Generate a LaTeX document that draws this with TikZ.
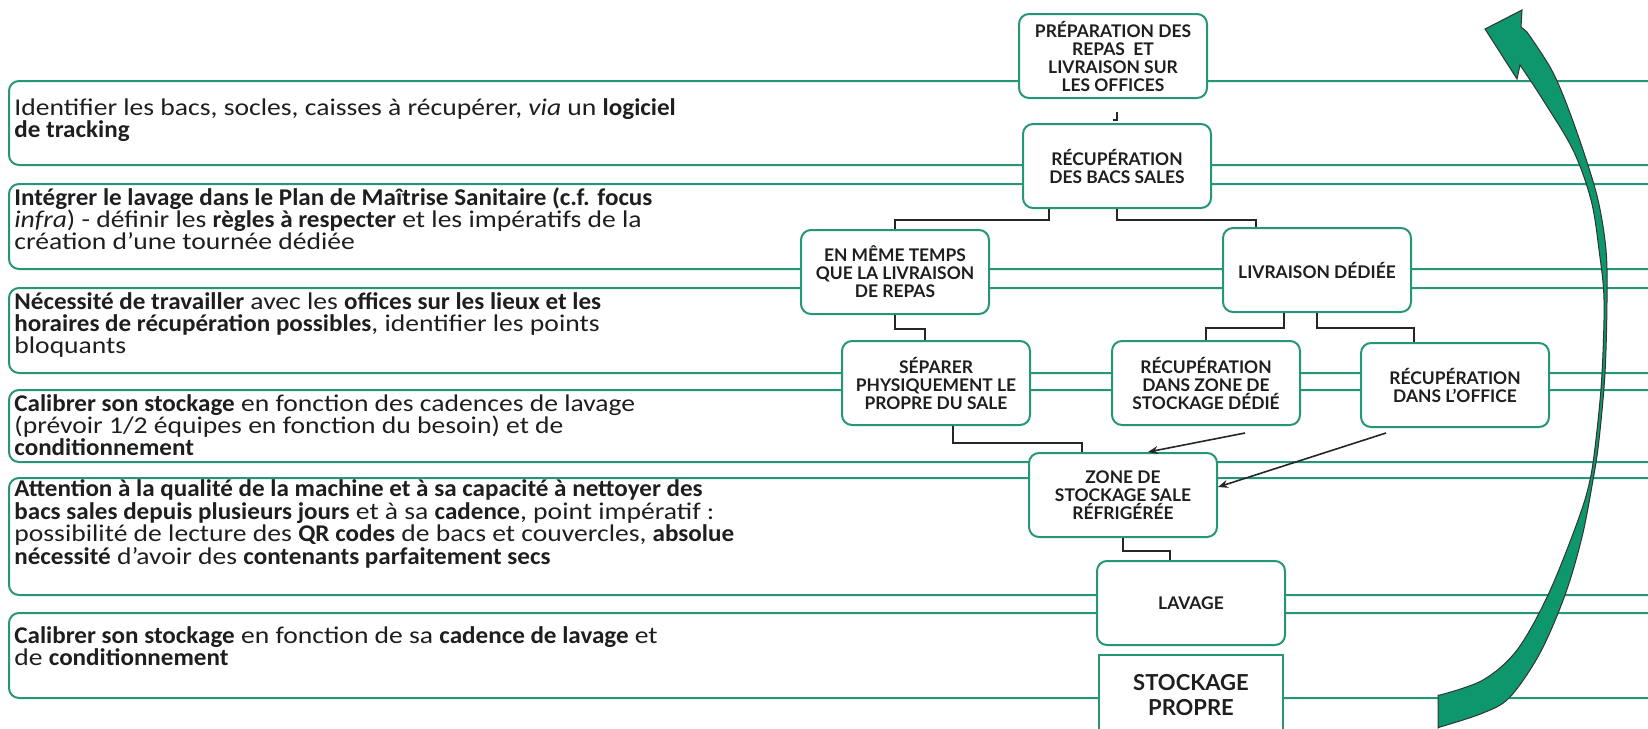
\documentclass[tikz,border=0pt]{standalone}
\usepackage{fontspec}
\setmainfont{Carlito}[FakeStretch=1.15, BoldFeatures={FakeStretch=1.045}]
\newfontfamily\etapefont{Lato}
\usetikzlibrary{arrows.meta}
\definecolor{V}{RGB}{38, 150, 120}
\definecolor{F}{RGB}{14, 150, 108}
\definecolor{T}{RGB}{30, 30, 30}

\begin{document}
\begin{tikzpicture}[x=0.5pt,y=-0.5pt,
  bande/.style={draw=V, line width=1pt, rounded corners=5pt},
  texte/.style={anchor=west, align=left, inner sep=0pt, text=T, font=\fontsize{12}{11}\selectfont},
  etape/.style={draw=V, line width=1pt, rounded corners=5pt, fill=white, text=T, align=center,
    inner sep=0pt, minimum width=94pt, minimum height=42pt, font=\etapefont\bfseries\fontsize{8.7}{9}\selectfont},
  lien/.style={draw=black!85, line width=0.8pt},
  fleche/.style={lien, -{Stealth[length=5pt,width=4pt]}}]
	\useasboundingbox (0,0) rectangle (1648,728);

	% Bandes de gauche (elles sortent de la page a droite)
	\draw[bande] (9,81) rectangle (1670,165);
	\draw[bande] (9,184) rectangle (1670,269);
	\draw[bande] (9,288) rectangle (1670,373);
	\draw[bande] (9,390) rectangle (1670,462);
	\draw[bande] (9,478) rectangle (1670,595);
	\draw[bande] (9,613) rectangle (1670,698);

	% Textes des bandes
	\node[texte] (tracking) at (14,120) {Identifier les bacs, socles, caisses à récupérer, \emph{via} un \textbf{logiciel}\\\textbf{de tracking}};
	\node[texte] (pms) at (14,219) {\textbf{Intégrer le lavage dans le Plan de Maîtrise Sanitaire (c.f. focus}\\\emph{infra}) - définir les \textbf{règles à respecter} et les impératifs de la\\création d’une tournée dédiée};
	\node[texte] (offices) at (14,325) {\textbf{Nécessité de travailler} avec les \textbf{offices sur les lieux et les}\\\textbf{horaires de récupération possibles}, identifier les points\\bloquants};
	\node[texte] (cadences) at (14,425) {\textbf{Calibrer son stockage} en fonction des cadences de lavage\\(prévoir 1/2 équipes en fonction du besoin) et de\\\textbf{conditionnement}};
	\node[texte, font=\fontsize{12}{10.2}\selectfont] (machine) at (14,524) {\textbf{Attention à la qualité de la machine et à sa capacité à nettoyer des}\\\textbf{bacs sales depuis plusieurs jours} et à sa \textbf{cadence}, point impératif :\\possibilité de lecture des \textbf{QR codes} de bacs et couvercles, \textbf{absolue}\\\textbf{nécessité} d’avoir des \textbf{contenants parfaitement secs}};
	\node[texte] (stockage) at (14,646) {\textbf{Calibrer son stockage} en fonction de sa \textbf{cadence de lavage} et\\de \textbf{conditionnement}};

	% Etapes du circuit
	\node[etape] (prep) at (1113,56) {PRÉPARATION DES\\REPAS \ ET\\LIVRAISON SUR\\LES OFFICES};
	\node[etape] (recup) at (1117,166) {RÉCUPÉRATION\\DES BACS SALES};
	\node[etape] (meme) at (895,272) {EN MÊME TEMPS\\QUE LA LIVRAISON\\DE REPAS};
	\node[etape] (livr) at (1317,270) {LIVRAISON DÉDIÉE};
	\node[etape] (sep) at (936,383) {SÉPARER\\PHYSIQUEMENT LE\\PROPRE DU SALE};
	\node[etape] (rzone) at (1206,383) {RÉCUPÉRATION\\DANS ZONE DE\\STOCKAGE DÉDIÉ};
	\node[etape] (office) at (1455,385) {RÉCUPÉRATION\\DANS L’OFFICE};
	\node[etape] (froid) at (1123,495) {ZONE DE\\STOCKAGE SALE\\RÉFRIGÉRÉE};
	\node[etape] (lav) at (1191,603) {LAVAGE};
	\node[etape, rounded corners=0pt, minimum width=92pt, minimum height=40pt, font=\etapefont\bfseries\fontsize{11}{12.5}\selectfont] (propre) at (1191,695) {STOCKAGE\\PROPRE};

	% Liaisons
	\coordinate (marque) at ([yshift=5.5pt]recup.north);
	\draw[lien] (marque) -- ++(0,8) -- ++(-4,0);
	\draw[lien] ([xshift=-34pt]recup.south) -- ++(0,11) -| (meme.north);
	\draw[lien] (recup.south) -- ++(0,11) -| ([xshift=-30.5pt]livr.north);
	\draw[lien] (meme.south) -- ++(0,14) -| ([xshift=-5.5pt]sep.north);
	\draw[lien] ([xshift=-16.5pt]livr.south) -- ++(0,15) -| (rzone.north);
	\draw[lien] (livr.south) -- ++(0,15) -| ([xshift=-20.5pt]office.north);
	\draw[lien] ([xshift=8.5pt]sep.south) -- ++(0,17) -| ([xshift=-20.5pt]froid.north);
	\draw[lien] (froid.south) -- ++(0,13) -| ([xshift=-10.5pt]lav.north);
	\draw[fleche] ([xshift=19.5pt,yshift=-3.5pt]rzone.south) -- ([xshift=12.5pt]froid.north);
	\draw[fleche] ([xshift=-34.5pt,yshift=-2.5pt]office.south) -- ([yshift=4pt]froid.east);

	% Grande fleche verte de retour
	\filldraw[fill=F, draw=black!80, line width=0.5pt] (1522,10) -- (1521,27)
	  -- plot[smooth, tension=0.55] coordinates {(1527,32) (1550,67) (1565,100) (1583,150) (1598,200) (1606,250) (1607,300) (1605,373) (1599,440) (1593,480) (1582,537) (1565,595) (1540,653) (1510,697) (1483,713) (1440,727)}
	  -- (1438,728) -- (1438,695)
	  -- plot[smooth, tension=0.55] coordinates {(1440,695) (1483,680) (1517,650) (1548,595) (1577,523) (1590,480) (1597,430) (1602,373) (1604,300) (1599,250) (1591,200) (1573,150) (1543,100) (1520,65)}
	  -- (1517,79) -- (1485,29) -- cycle;
\end{tikzpicture}
\end{document}
